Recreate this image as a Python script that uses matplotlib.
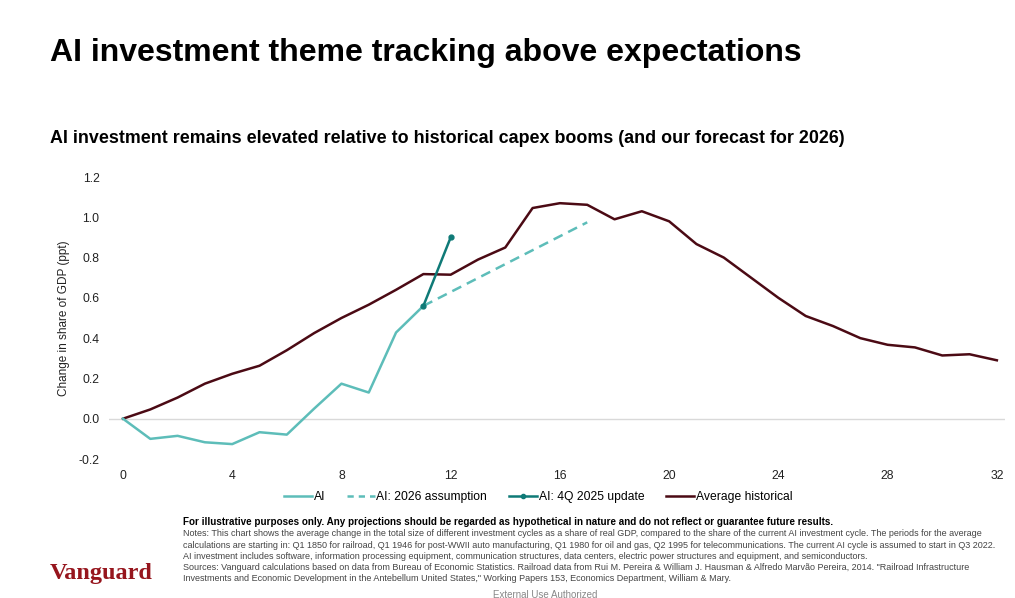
"""
AI investment vs historical capex booms (Vanguard chart recreation).
"""
import matplotlib
matplotlib.use('Agg')
import matplotlib.pyplot as plt
from matplotlib import font_manager
from matplotlib.lines import Line2D

# quarters since start of cycle
ai_x = [0, 1, 2, 3, 4, 5, 6, 7, 8, 9, 10, 11]
ai_y = [0.0, -0.10, -0.085, -0.117, -0.126, -0.067, -0.079, 0.05, 0.174, 0.13, 0.428, 0.56]

assume_x = [11, 17]
assume_y = [0.56, 0.975]

update_x = [11, 12]
update_y = [0.56, 0.90]

hist_x = list(range(33))
hist_y = [0.0, 0.046, 0.105, 0.174, 0.223, 0.263, 0.34, 0.425, 0.50, 0.566, 0.64, 0.718,
          0.715, 0.79, 0.85, 1.046, 1.07, 1.062, 0.99, 1.03, 0.98, 0.867, 0.80, 0.70,
          0.60, 0.51, 0.46, 0.40, 0.367, 0.354, 0.314, 0.32, 0.29]

x_ticks = [0, 4, 8, 12, 16, 20, 24, 28, 32]
y_ticks = [-0.2, 0.0, 0.2, 0.4, 0.6, 0.8, 1.0, 1.2]

title = 'AI investment theme tracking above expectations'
subtitle = 'AI investment remains elevated relative to historical capex booms (and our forecast for 2026)'
disclaimer = ('For illustrative purposes only. Any projections should be regarded as hypothetical '
              'in nature and do not reflect or guarantee future results.')
notes = [
    'Notes: This chart shows the average change in the total size of different investment cycles as a share of real GDP, '
    'compared to the share of the current AI investment cycle. The periods for the average',
    'calculations are starting in: Q1 1850 for railroad, Q1 1946 for post-WWII auto manufacturing, Q1 1980 for oil and gas, '
    'Q2 1995 for telecommunications. The current AI cycle is assumed to start in Q3 2022.',
    'AI investment includes software, information processing equipment, communication structures, data centers, '
    'electric power structures and equipment, and semiconductors.',
    'Sources: Vanguard calculations based on data from Bureau of Economic Statistics. Railroad data from Rui M. Pereira & '
    'William J. Hausman & Alfredo Marvão Pereira, 2014. "Railroad Infrastructure',
    'Investments and Economic Development in the Antebellum United States," Working Papers 153, Economics Department, '
    'William & Mary.',
]

C_AI = '#5DBDB9'
C_UPD = '#0F7A77'
C_HIST = '#4B0A14'
C_LOGO = '#96151D'

names = {f.name for f in font_manager.fontManager.ttflist}
plt.rcParams['font.family'] = ['Liberation Sans', 'DejaVu Sans']
narrow = 'Liberation Sans Narrow' if 'Liberation Sans Narrow' in names else 'Liberation Sans'
note_size = 7.6 if narrow == 'Liberation Sans Narrow' else 6.45
bold_size = 8.4 if narrow == 'Liberation Sans Narrow' else 7.1

fig = plt.figure(figsize=(10.15, 5.98), dpi=100)
ax = fig.add_axes([0.1077, 1 - 459 / 598, 0.8825, (459 - 177) / 598])

ax.axhline(0, color='#D9D9D9', lw=1.0, zorder=1)
ax.plot(ai_x, ai_y, color=C_AI, lw=1.8, zorder=3)
ax.plot(assume_x, assume_y, color=C_AI, lw=1.8, ls=(0, (4, 2.5)), zorder=3)
ax.plot(update_x, update_y, color=C_UPD, lw=1.8, marker='o', ms=3.5, zorder=4)
ax.plot(hist_x, hist_y, color=C_HIST, lw=1.8, zorder=2)

ax.set_xlim(-0.5, 32.3)
ax.set_ylim(-0.2, 1.2)
ax.set_xticks(x_ticks)
ax.set_yticks(y_ticks)
ax.set_yticklabels([f'{v:.1f}' for v in y_ticks])
ax.tick_params(length=0, labelsize=8.8, colors='#222222')
ax.tick_params(axis='y', pad=7)
ax.tick_params(axis='x', pad=8)
for s in ax.spines.values():
    s.set_visible(False)
ax.set_ylabel('Change in share of GDP (ppt)', fontsize=8.5, color='#222222', labelpad=6)

handles = [
    Line2D([], [], color=C_AI, lw=1.8),
    Line2D([], [], color=C_AI, lw=1.8, ls=(0, (2.5, 2))),
    Line2D([], [], color=C_UPD, lw=1.8, marker='o', ms=3, markevery=[1]),
    Line2D([], [], color=C_HIST, lw=1.8),
]
fig.legend(handles, ['AI', 'AI: 2026 assumption', 'AI: 4Q 2025 update', 'Average historical'],
           loc='center', bbox_to_anchor=(538 / 1015, 1 - 497 / 598), ncol=4, frameon=False,
           fontsize=8.7, handlelength=2.3, handletextpad=0.15, columnspacing=1.8)

fig.text(50 / 1015, 1 - 53 / 598, title, fontsize=23.0, fontweight='bold', va='center', ha='left')
fig.text(50 / 1015, 1 - 138 / 598, subtitle, fontsize=12.9, fontweight='bold', va='center', ha='left')

fig.text(183 / 1015, 1 - 522 / 598, disclaimer, family=narrow, fontsize=bold_size,
         fontweight='bold', va='center', ha='left')
for i, line in enumerate(notes):
    fig.text(183 / 1015, 1 - (534 + i * 11.2) / 598, line, family=narrow, fontsize=note_size,
             color='#444444', va='center', ha='left')
fig.text(545 / 1015, 1 - 595 / 598, 'External Use Authorized', family=narrow, fontsize=7,
         color='#888888', va='center', ha='center')

fig.text(50 / 1015, 1 - 573 / 598, 'Vanguard', family=['Liberation Serif', 'DejaVu Serif'],
         fontsize=17.5, fontweight='bold', color=C_LOGO, va='center', ha='left')

fig.savefig('out.png', dpi=100)
